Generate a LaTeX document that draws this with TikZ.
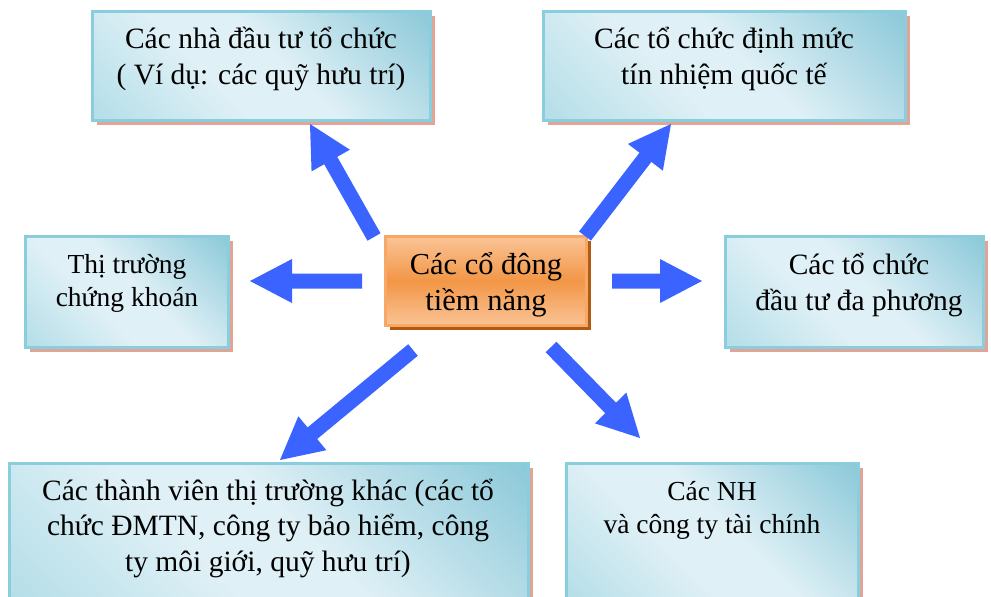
\documentclass[tikz,border=0pt]{standalone}
\usepackage{fontspec}
\setmainfont{Liberation Serif}
\usetikzlibrary{calc,shadows}

\definecolor{boxedge}{RGB}{138,206,222}
\definecolor{boxdark}{RGB}{140,201,217}
\definecolor{boxlight}{RGB}{223,240,246}
\definecolor{boxmid}{RGB}{180,222,232}
\definecolor{boxshade}{RGB}{224,165,150}
\definecolor{coreedge}{RGB}{247,168,102}
\definecolor{corelight}{RGB}{250,196,150}
\definecolor{coredark}{RGB}{242,150,70}
\definecolor{coreshade}{RGB}{178,90,18}
\definecolor{arrowblue}{RGB}{58,99,255}

% diagonal sheen of the outer boxes
\pgfdeclarehorizontalshading{sheen}{100bp}{%
  color(0bp)=(boxmid); color(15bp)=(boxmid); color(40bp)=(boxlight);
  color(54bp)=(boxlight); color(85bp)=(boxdark); color(100bp)=(boxdark)}
% horizontal band of the central box
\pgfdeclareverticalshading{coreband}{100bp}{%
  color(0bp)=(corelight); color(25bp)=(corelight); color(50bp)=(coredark);
  color(75bp)=(corelight); color(100bp)=(corelight)}

\tikzset{
  infobox/.style={rectangle, draw=boxedge, line width=3pt, inner sep=0pt,
    shade, shading=sheen, shading angle=45,
    general shadow={fill=boxshade, shadow xshift=4.5pt, shadow yshift=-4.5pt}},
  corebox/.style={rectangle, draw=coreedge, line width=3pt, inner sep=0pt,
    shade, shading=coreband,
    general shadow={fill=coreshade, shadow xshift=4.5pt, shadow yshift=-4.5pt}},
  boxtext/.style={align=center, inner sep=0pt, font=\fontsize{29.5}{35.5}\selectfont},
  smalltext/.style={boxtext, font=\fontsize{27.5}{33}\selectfont},
  coretext/.style={boxtext, font=\fontsize{30.5}{36}\selectfont}
}

% block arrow from #1 (tail) to #2 (tip)
\newcommand\blockarrow[2]{%
  \fill[arrowblue]
    ($(#1)!7.5pt!90:(#2)$) --
    ($($(#2)!42pt!(#1)$)!7.5pt!90:(#2)$) --
    ($($(#2)!42pt!(#1)$)!22pt!90:(#2)$) --
    (#2) --
    ($($(#2)!42pt!(#1)$)!22pt!-90:(#2)$) --
    ($($(#2)!42pt!(#1)$)!7.5pt!-90:(#2)$) --
    ($(#1)!7.5pt!-90:(#2)$) -- cycle;}

\begin{document}
\begin{tikzpicture}[x=1pt,y=-1pt]
\useasboundingbox (0,0) rectangle (991,597);
\clip (0,0) rectangle (991,597);
\fill[white] (0,0) rectangle (991,597);

% outer boxes
\node[infobox, minimum width=338pt, minimum height=109pt] (investors) at (261.5,66) {};
\node[infobox, minimum width=362pt, minimum height=109pt] (rating) at (724.5,66) {};
\node[infobox, minimum width=203pt, minimum height=111pt] (market) at (127,292) {};
\node[infobox, minimum width=258pt, minimum height=111pt] (multilateral) at (854.5,292) {};
\node[infobox, minimum width=519pt, minimum height=140pt] (members) at (268.5,533) {};
\node[infobox, minimum width=292pt, minimum height=140pt] (banks) at (712.5,533) {};

% central box
\node[corebox, minimum width=201pt, minimum height=89pt] (core) at (486,281) {};

% labels
\node[boxtext] (investors-t) at (261,59) {Các nhà đầu tư tổ chức\\( Ví dụ: các quỹ hưu trí)};
\node[boxtext] (rating-t) at (724,59) {Các tổ chức định mức\\tín nhiệm quốc tế};
\node[smalltext] (market-t) at (127,283) {Thị trường\\chứng khoán};
\node[coretext] (core-t) at (486,285) {Các cổ đông\\tiềm năng};
\node[boxtext] (multilateral-t) at (859,285) {Các tổ chức\\đầu tư đa phương};
\node[boxtext] (members-t) at (268,528) {Các thành viên thị trường khác (các tổ\\chức ĐMTN, công ty bảo hiểm, công\\ty môi giới, quỹ hưu trí)};
\node[smalltext] (banks-t) at (712,510) {Các NH\\và công ty tài chính};

% arrow ends
\coordinate (aL0) at (362,281);  \coordinate (aL1) at (250,281);
\coordinate (aR0) at (612,281);  \coordinate (aR1) at (702,281);
\coordinate (aUL0) at (374,237); \coordinate (aUL1) at (310,124);
\coordinate (aUR0) at (585,236); \coordinate (aUR1) at (671,124);
\coordinate (aDL0) at (413,350); \coordinate (aDL1) at (280,460);
\coordinate (aDR0) at (551,347); \coordinate (aDR1) at (640,438);

\blockarrow{aL0}{aL1}
\blockarrow{aR0}{aR1}
\blockarrow{aUL0}{aUL1}
\blockarrow{aUR0}{aUR1}
\blockarrow{aDL0}{aDL1}
\blockarrow{aDR0}{aDR1}
\end{tikzpicture}
\end{document}
